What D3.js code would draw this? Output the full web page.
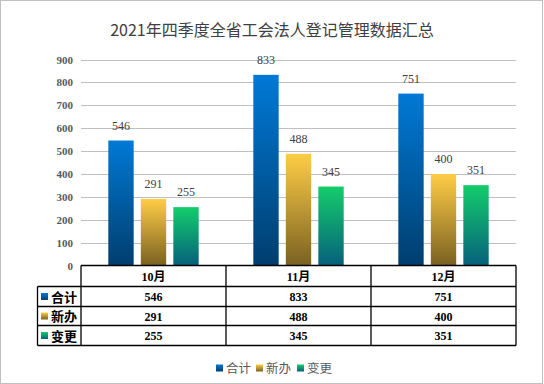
<!DOCTYPE html>
<html>
<head>
<meta charset="utf-8">
<script src="https://cdn.jsdelivr.net/npm/d3@7"></script>
<style>
  body { margin: 0; background: #fff; }
  svg { display: block; }
</style>
</head>
<body>
<svg width="544" height="384"></svg>
<script>
// data
var months = ["10月", "11月", "12月"];
var seriesNames = ["合计", "新办", "变更"];
var totalVals = [546, 833, 751];
var newVals = [291, 488, 400];
var changeVals = [255, 345, 351];
var yTicks = [0, 100, 200, 300, 400, 500, 600, 700, 800, 900];

var seriesVals = [totalVals, newVals, changeVals];
var grads = [
  ["#0079d6", "#003e6e"],
  ["#ffcd45", "#7a6122"],
  ["#14cd6b", "#06607c"]
];

var svg = d3.select("svg"),
    width = +svg.attr("width"),
    height = +svg.attr("height");

var numFont = "'Liberation Serif', 'Noto Sans CJK SC', serif";
var cjkFont = "'Noto Sans CJK SC', sans-serif";

// outer border
svg.append("rect")
  .attr("x", 0.5).attr("y", 0.5)
  .attr("width", width - 2).attr("height", height - 1)
  .attr("fill", "#fff")
  .attr("stroke", "#c0c0c0");

var defs = svg.append("defs");
grads.forEach(function(g, i) {
  var lg = defs.append("linearGradient")
    .attr("id", "g" + i)
    .attr("x1", 0).attr("y1", 0).attr("x2", 0).attr("y2", 1);
  lg.append("stop").attr("offset", "0%").attr("stop-color", g[0]);
  lg.append("stop").attr("offset", "100%").attr("stop-color", g[1]);
});

// title
svg.append("text")
  .attr("x", 272).attr("y", 36)
  .attr("text-anchor", "middle")
  .attr("font-family", cjkFont)
  .attr("font-size", 16)
  .attr("fill", "#404040")
  .text("2021年四季度全省工会法人登记管理数据汇总");

var plotL = 81, plotR = 516, plotT = 59.5, plotB = 265.5;

var y = d3.scaleLinear().domain([0, 900]).range([plotB, plotT]);
var x0 = d3.scaleBand().domain(months).range([plotL, plotR]).padding(0);
var x1 = d3.scaleBand().domain(seriesNames).range([0, x0.bandwidth()])
  .paddingInner(0.22).paddingOuter(0.84);

// gridlines
svg.append("g")
  .selectAll("line")
  .data(yTicks.filter(function(d) { return d > 0; }))
  .enter().append("line")
    .attr("x1", plotL).attr("x2", plotR)
    .attr("y1", function(d) { return Math.round(y(d)) + 0.5; })
    .attr("y2", function(d) { return Math.round(y(d)) + 0.5; })
    .attr("stroke", "#bfbfbf")
    .attr("stroke-width", 1);

// y labels
svg.append("g")
  .selectAll("text")
  .data(yTicks)
  .enter().append("text")
    .attr("x", 73)
    .attr("y", function(d) { return y(d) + 4; })
    .attr("text-anchor", "end")
    .attr("font-family", numFont)
    .attr("font-size", 11)
    .attr("font-weight", "bold")
    .attr("fill", "#595959")
    .text(function(d) { return d; });

// bars
var groups = svg.append("g")
  .selectAll("g")
  .data(months)
  .enter().append("g")
    .attr("transform", function(d) { return "translate(" + x0(d) + ",0)"; });

function rowsFor(m, mi) {
  return seriesNames.map(function(s, si) { return { s: s, si: si, v: seriesVals[si][mi] }; });
}

groups.selectAll("rect")
  .data(rowsFor)
  .enter().append("rect")
    .attr("x", function(d) { return x1(d.s); })
    .attr("y", function(d) { return y(d.v); })
    .attr("width", x1.bandwidth())
    .attr("height", function(d) { return plotB - y(d.v); })
    .attr("fill", function(d) { return "url(#g" + d.si + ")"; });

groups.selectAll("text")
  .data(rowsFor)
  .enter().append("text")
    .attr("x", function(d) { return x1(d.s) + x1.bandwidth() / 2; })
    .attr("y", function(d) { return y(d.v) - 11; })
    .attr("text-anchor", "middle")
    .attr("font-family", numFont)
    .attr("font-size", 12)
    .attr("fill", "#404040")
    .text(function(d) { return d.v; });

// data table
var rowY = [265.5, 286.5, 306.5, 325.5, 345.5];
var tableLeft = 37.5;
var tbl = svg.append("g")
  .attr("stroke", "#000")
  .attr("stroke-width", 1.3)
  .attr("fill", "none");

tbl.append("line").attr("x1", plotL).attr("x2", plotR).attr("y1", rowY[0]).attr("y2", rowY[0]);
for (var r = 1; r < rowY.length; r++) {
  tbl.append("line").attr("x1", tableLeft).attr("x2", plotR).attr("y1", rowY[r]).attr("y2", rowY[r]);
}
tbl.append("line").attr("x1", tableLeft).attr("x2", tableLeft).attr("y1", rowY[1]).attr("y2", rowY[4]);
[plotL].concat(months.map(function(m) { return x0(m) + x0.bandwidth(); })).forEach(function(xv) {
  tbl.append("line").attr("x1", xv).attr("x2", xv).attr("y1", rowY[0]).attr("y2", rowY[4]);
});

// header
svg.append("g")
  .selectAll("text")
  .data(months)
  .enter().append("text")
    .attr("x", function(d) { return x0(d) + x0.bandwidth() / 2; })
    .attr("y", (rowY[0] + rowY[1]) / 2 + 4.5)
    .attr("text-anchor", "middle")
    .attr("font-family", numFont)
    .attr("font-size", 12)
    .attr("font-weight", "bold")
    .attr("fill", "#000")
    .text(function(d) { return d; });

// table rows
seriesNames.forEach(function(s, si) {
  var cy = (rowY[si + 1] + rowY[si + 2]) / 2;
  svg.append("rect")
    .attr("x", 41).attr("y", cy - 3.5)
    .attr("width", 7).attr("height", 7)
    .attr("fill", "url(#g" + si + ")");
  svg.append("text")
    .attr("x", 51).attr("y", cy + 5)
    .attr("font-family", cjkFont)
    .attr("font-size", 13)
    .attr("font-weight", "bold")
    .attr("fill", "#000")
    .text(s);
  months.forEach(function(m, mi) {
    svg.append("text")
      .attr("x", x0(m) + x0.bandwidth() / 2)
      .attr("y", cy + 4.5)
      .attr("text-anchor", "middle")
      .attr("font-family", numFont)
      .attr("font-size", 12)
      .attr("font-weight", "bold")
      .attr("fill", "#000")
      .text(seriesVals[si][mi]);
  });
});

// legend
var legendX = [216, 256, 297];
var legend = svg.append("g")
  .selectAll("g")
  .data(seriesNames)
  .enter().append("g")
    .attr("transform", function(d, i) { return "translate(" + legendX[i] + ",368)"; });

legend.append("rect")
  .attr("x", 0).attr("y", -3.5)
  .attr("width", 7).attr("height", 7)
  .attr("fill", function(d, i) { return "url(#g" + i + ")"; });

legend.append("text")
  .attr("x", 10).attr("y", 4.5)
  .attr("font-family", cjkFont)
  .attr("font-size", 12.5)
  .attr("fill", "#595959")
  .text(function(d) { return d; });
</script>
</body>
</html>
